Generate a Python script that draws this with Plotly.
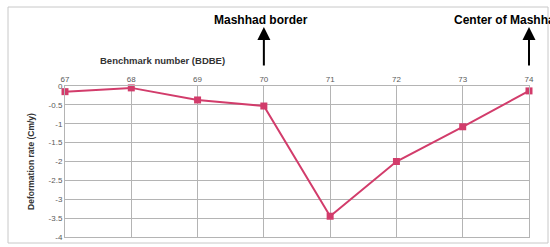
import plotly.graph_objects as go

benchmarks = [67, 68, 69, 70, 71, 72, 73, 74]
deformation = [-0.15, -0.05, -0.37, -0.53, -3.45, -2.0, -1.08, -0.13]
y_ticks = [0, -0.5, -1, -1.5, -2, -2.5, -3, -3.5, -4]
y_tick_labels = ["0", "-0.5", "-1", "-1.5", "-2", "-2.5", "-3", "-3.5", "-4"]

W, H = 550, 247
L, R, T, B = 65, 21, 86, 10
pw, ph = W - L - R, H - T - B

def px_x(p):
    return (p - L) / pw

def px_y(p):
    return 1 + (T - p) / ph

fig = go.Figure()
fig.add_trace(go.Scatter(
    x=benchmarks, y=deformation, mode="lines+markers",
    line=dict(color="#d23c6b", width=2),
    marker=dict(symbol="square", size=7, color="#d23c6b"),
    cliponaxis=False, showlegend=False,
))

grid = "#b4b4b4"
fig.update_layout(
    width=W, height=H,
    margin=dict(l=L, r=R, t=T, b=B, autoexpand=False),
    paper_bgcolor="white", plot_bgcolor="white",
    font=dict(family="Arial", color="#595959", size=8),
    xaxis=dict(
        side="top", range=[67, 74], tickvals=benchmarks,
        ticktext=[str(b) for b in benchmarks],
        showgrid=True, gridcolor=grid, gridwidth=1,
        showline=True, linecolor=grid, mirror=True,
        ticks="", tickfont=dict(size=8, color="#595959"), zeroline=False,
        automargin=False,
    ),
    yaxis=dict(
        range=[-4, 0], tickvals=y_ticks, ticktext=y_tick_labels,
        showgrid=True, gridcolor=grid, gridwidth=1,
        showline=True, linecolor=grid, mirror=True,
        ticks="", tickfont=dict(size=8, color="#595959"), zeroline=False,
        automargin=False,
        title=dict(text="<b>Deformation rate (Cm/y)</b>", font=dict(size=8.5, color="#333333"), standoff=12),
    ),
)

fig.add_shape(type="rect", xref="paper", yref="paper",
              x0=px_x(8), x1=px_x(548), y0=px_y(243), y1=px_y(7),
              line=dict(color="#c8c8c8", width=1), layer="below")

fig.add_annotation(text="<b>Benchmark number (BDBE)</b>", xref="paper", yref="paper",
                   x=px_x(162), y=px_y(60), xanchor="center", yanchor="middle",
                   showarrow=False, font=dict(size=9.5, color="#333333"))

for xv, label, xa, tx in [(70, "Mashhad border", "center", 261), (74, "Center of Mashhad", "left", 452)]:
    fig.add_annotation(x=xv, y=px_y(27), xref="x", yref="paper", text="",
                       showarrow=True, arrowhead=2, arrowsize=1.3, arrowwidth=2,
                       arrowcolor="black", ax=0, ay=40)
    fig.add_annotation(text="<b>" + label + "</b>", xref="paper", yref="paper",
                       x=px_x(tx), y=px_y(20), xanchor=xa, yanchor="middle",
                       showarrow=False, font=dict(size=12, color="black"))

fig.write_html("out.html", config={"displayModeBar": False},
               post_script="document.body.style.margin='0';document.body.style.overflow='hidden';")
